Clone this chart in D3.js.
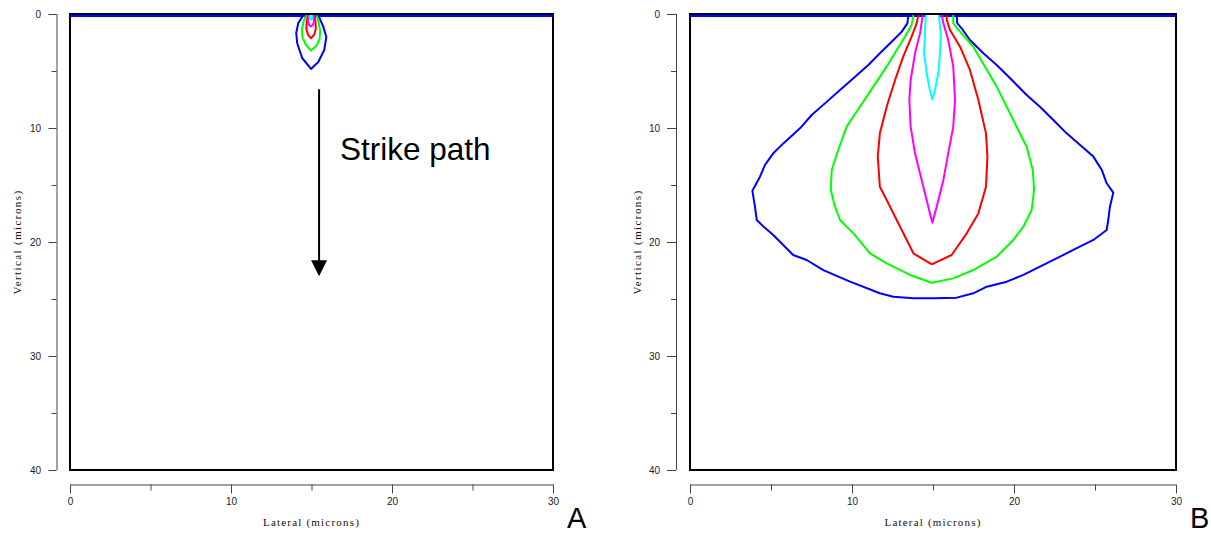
<!DOCTYPE html>
<html>
<head>
<meta charset="utf-8">
<script src="https://cdn.jsdelivr.net/npm/d3@7"></script>
<style>
  body { margin: 0; background: #fff; }
  svg { display: block; }
</style>
</head>
<body>
<svg id="chart" width="1211" height="533"></svg>
<script>
// Axis ranges and tick values (microns)
const lateralDomain = [0, 30];
const verticalDomain = [0, 40];
const xMajorTicks = [0, 10, 20, 30];
const xMinorTicks = [5, 15, 25];
const yMajorTicks = [0, 10, 20, 30, 40];
const yMinorTicks = [5, 15, 25, 35];

// Contour levels, outermost to innermost
const levelColors = ["#0000ff", "#00ff00", "#ff0000", "#ff00ff", "#00ffff"];

// Panel A contours: [lateral, vertical] in microns
const aBlue = [[14.49,0.1],[14.18,0.79],[14.05,1.67],[14.11,2.54],[14.42,3.86],[14.97,4.82],
  [15.42,4.21],[15.79,3.16],[15.92,2.02],[15.74,1.14],[15.42,0.1]];
const aGreen = [[14.68,0.1],[14.5,0.7],[14.4,1.4],[14.45,2.1],[14.65,2.7],[14.97,3.2],
  [15.3,2.8],[15.5,2.2],[15.54,1.5],[15.45,0.8],[15.32,0.1]];
const aRed = [[14.78,0.1],[14.7,0.7],[14.68,1.3],[14.78,1.8],[14.97,2.13],[15.17,1.8],
  [15.27,1.3],[15.25,0.7],[15.18,0.1]];
const aMagenta = [[14.82,0.1],[14.78,0.6],[14.85,0.95],[14.97,1.1],[15.1,0.95],[15.15,0.6],[15.12,0.1]];
const aCyan = [[14.9,0.1],[14.9,0.4],[14.97,0.5],[15.05,0.4],[15.05,0.1]];

// Panel B contours
const bBlue = [[13.48,0.09],[13.42,0.82],[13.07,1.55],[12.45,2.43],[11.72,3.45],[11.01,4.47],
  [10.19,5.5],[9.26,6.67],[8.33,7.84],[7.51,8.86],[6.79,10.03],[5.76,11.35],[5.14,12.22],
  [4.63,13.24],[4.32,14.27],[3.85,15.5],[4.01,16.9],[4.12,18.07],[4.53,18.65],[5.14,19.39],
  [6.37,21.14],[7.2,21.58],[8.23,22.46],[9.88,23.48],[11.72,24.5],[12.55,24.8],[13.79,24.94],
  [15.02,24.94],[16.46,24.88],[17.49,24.5],[18.32,23.92],[19.55,23.48],[20.58,22.89],
  [21.6,22.16],[22.84,21.29],[23.66,20.7],[24.9,19.82],[25.72,18.95],[25.82,18.07],
  [25.92,16.9],[26.13,15.67],[25.72,14.85],[25.42,13.68],[24.9,12.51],[24.08,11.49],
  [23.25,10.47],[22.43,9.3],[21.6,8.13],[20.78,7.11],[19.76,5.64],[18.93,4.47],[18.11,3.45],
  [17.28,2.28],[16.77,1.26],[16.5,0.82],[16.46,0.09]];
const bGreen = [[13.79,0.09],[13.68,0.96],[13.27,1.99],[12.76,3.16],[12.14,4.62],[11.32,6.37],
  [10.49,8.13],[9.67,9.88],[9.15,11.93],[8.75,13.68],[8.69,15.44],[8.95,16.9],[9.26,18.07],
  [10.09,19.24],[11.11,20.99],[12.14,21.87],[13.58,22.89],[14.92,23.57],[16.25,23.19],
  [17.49,22.46],[18.93,21.29],[19.96,19.82],[20.58,18.65],[21.09,17.19],[21.24,15.44],
  [21.16,13.68],[20.78,11.64],[20.16,9.88],[19.55,8.13],[18.93,6.37],[18.21,4.62],
  [17.49,2.87],[16.67,1.55],[16.25,0.82],[16.25,0.09]];
const bRed = [[14.1,0.09],[13.99,0.82],[13.68,1.99],[13.16,3.74],[12.66,5.79],[12.14,8.13],
  [11.72,10.47],[11.59,12.51],[11.72,15.15],[12.14,16.32],[12.76,18.07],[13.79,20.99],
  [14.92,21.96],[16.15,21.14],[17.08,19.24],[17.8,17.49],[18.27,15.15],[18.36,12.51],
  [18.27,10.47],[17.8,7.54],[17.28,4.91],[16.67,2.87],[16.05,1.4],[15.85,0.53],[15.85,0.09]];
const bMagenta = [[14.37,0.09],[14.2,1.7],[13.89,3.45],[13.62,5.79],[13.54,7.54],[13.62,9.88],
  [13.89,12.22],[14.3,14.56],[14.71,16.9],[14.96,18.3],[15.23,16.9],[15.64,14.56],
  [15.94,12.22],[16.25,9.88],[16.36,7.54],[16.25,4.62],[15.94,2.28],[15.64,0.82],[15.54,0.09]];
const bCyan = [[14.56,0.09],[14.5,1.7],[14.45,3.45],[14.61,5.2],[14.81,6.67],[14.96,7.49],
  [15.12,6.67],[15.33,5.2],[15.43,3.45],[15.48,1.7],[15.37,0.23],[15.37,0.09]];

// Surface depth of the contour line running along the top boundary
const surfaceDepth = [0.17];

// Strike path annotation (microns): arrow from start depth to tip depth
const strikeX = [15.47];
const strikeDepth = [6.6, 23.0];
const strikeLabel = ["Strike path"];
const strikeLabelPos = [16.77, 12.85];

const panelLabels = ["A", "B"];

const svg = d3.select("#chart");

const panels = [
  { label: panelLabels[0], left: 70, right: 553, yAxisX: 56.5, tick: 8, pad: 7.5, titleX: 17,
    contours: [aBlue, aGreen, aRed, aMagenta, aCyan], arrow: true },
  { label: panelLabels[1], left: 690, right: 1176, yAxisX: 676, tick: 9, pad: 7, titleX: 637,
    contours: [bBlue, bGreen, bRed, bMagenta, bCyan], arrow: false }
];

const plotTop = 14, plotBottom = 470, xAxisY = 484.5;

panels.forEach(p => {
  const x = d3.scaleLinear().domain(lateralDomain).range([p.left, p.right]);
  const y = d3.scaleLinear().domain(verticalDomain).range([plotTop, plotBottom]);
  const g = svg.append("g");

  // Frame
  g.append("rect")
    .attr("x", x(0)).attr("y", y(0))
    .attr("width", x(30) - x(0)).attr("height", y(40) - y(0))
    .attr("fill", "none").attr("stroke", "#000").attr("stroke-width", 2);

  // Bottom axis (detached from the frame)
  const xAx = g.append("g").attr("transform", `translate(0,${xAxisY})`)
    .call(d3.axisBottom(x).tickValues(xMajorTicks).tickSize(9).tickPadding(4).tickFormat(d3.format("d")));
  const xMin = g.append("g").attr("transform", `translate(0,${xAxisY})`)
    .call(d3.axisBottom(x).tickValues(xMinorTicks).tickSize(6).tickFormat(""));
  xMin.select(".domain").remove();

  // Left axis
  const yAx = g.append("g").attr("transform", `translate(${p.yAxisX},0)`)
    .call(d3.axisLeft(y).tickValues(yMajorTicks).tickSize(p.tick).tickPadding(p.pad).tickFormat(d3.format("d")));
  const yMin = g.append("g").attr("transform", `translate(${p.yAxisX},0)`)
    .call(d3.axisLeft(y).tickValues(yMinorTicks).tickSize(5).tickFormat(""));
  yMin.select(".domain").remove();

  [xAx, xMin, yAx, yMin].forEach(a => {
    a.selectAll("path, line").attr("stroke", "#444").attr("stroke-width", 1);
    a.selectAll("text").attr("font-family", "Liberation Sans, Arial, sans-serif")
      .attr("font-size", 10).attr("fill", "#222");
  });
  xAx.select(".domain").attr("d", `M${x(0)},0.5H${x(30)}`);
  yAx.select(".domain").attr("d", `M0.5,${y(0)}V${y(40)}`);

  // Axis titles
  g.append("text")
    .attr("x", (x(0) + x(30)) / 2).attr("y", 526)
    .attr("text-anchor", "middle")
    .attr("font-family", "Liberation Serif, Times New Roman, serif")
    .attr("font-size", 11).attr("letter-spacing", 1.2).attr("fill", "#111")
    .text("Lateral (microns)");
  g.append("text")
    .attr("transform", `translate(${p.titleX + 4},${(y(0) + y(40)) / 2}) rotate(-90)`)
    .attr("text-anchor", "middle")
    .attr("font-family", "Liberation Serif, Times New Roman, serif")
    .attr("font-size", 11).attr("letter-spacing", 1.4).attr("fill", "#111")
    .text("Vertical (microns)");

  // Surface contour along the top boundary, open above the innermost level
  const inner = p.contours[p.contours.length - 1];
  const gapL = inner[0][0], gapR = inner[inner.length - 1][0];
  const sd = surfaceDepth[0];
  const surf = d3.line().x(d => x(d[0])).y(d => y(d[1]));
  [[[0, sd], [gapL, sd]], [[gapR, sd], [30, sd]]].forEach(seg => {
    g.append("path").attr("d", surf(seg))
      .attr("fill", "none").attr("stroke", levelColors[0]).attr("stroke-width", 2.2);
  });

  // Contour lines
  const line = d3.line().x(d => x(d[0])).y(d => y(d[1]));
  p.contours.forEach((c, i) => {
    g.append("path").attr("d", line(c))
      .attr("fill", "none").attr("stroke", levelColors[i])
      .attr("stroke-width", 2).attr("stroke-linejoin", "round");
  });

  // Strike path arrow
  if (p.arrow) {
    const ax = x(strikeX[0]);
    const headLen = 16, headHalf = 8;
    const tip = y(strikeDepth[1]);
    g.append("line")
      .attr("x1", ax).attr("x2", ax)
      .attr("y1", y(strikeDepth[0])).attr("y2", tip - headLen + 1)
      .attr("stroke", "#000").attr("stroke-width", 2);
    g.append("path")
      .attr("d", `M${ax - headHalf},${tip - headLen}L${ax + headHalf},${tip - headLen}L${ax},${tip}Z`)
      .attr("fill", "#000");
    g.append("text")
      .attr("x", x(strikeLabelPos[0])).attr("y", y(strikeLabelPos[1]))
      .attr("font-family", "Liberation Sans, Arial, sans-serif")
      .attr("font-size", 31.5).attr("fill", "#000")
      .text(strikeLabel[0]);
  }

  // Panel letter
  g.append("text")
    .attr("x", x(30) + 14).attr("y", 528)
    .attr("font-family", "Liberation Sans, Arial, sans-serif")
    .attr("font-size", 29).attr("fill", "#000")
    .text(p.label);
});
</script>
</body>
</html>
